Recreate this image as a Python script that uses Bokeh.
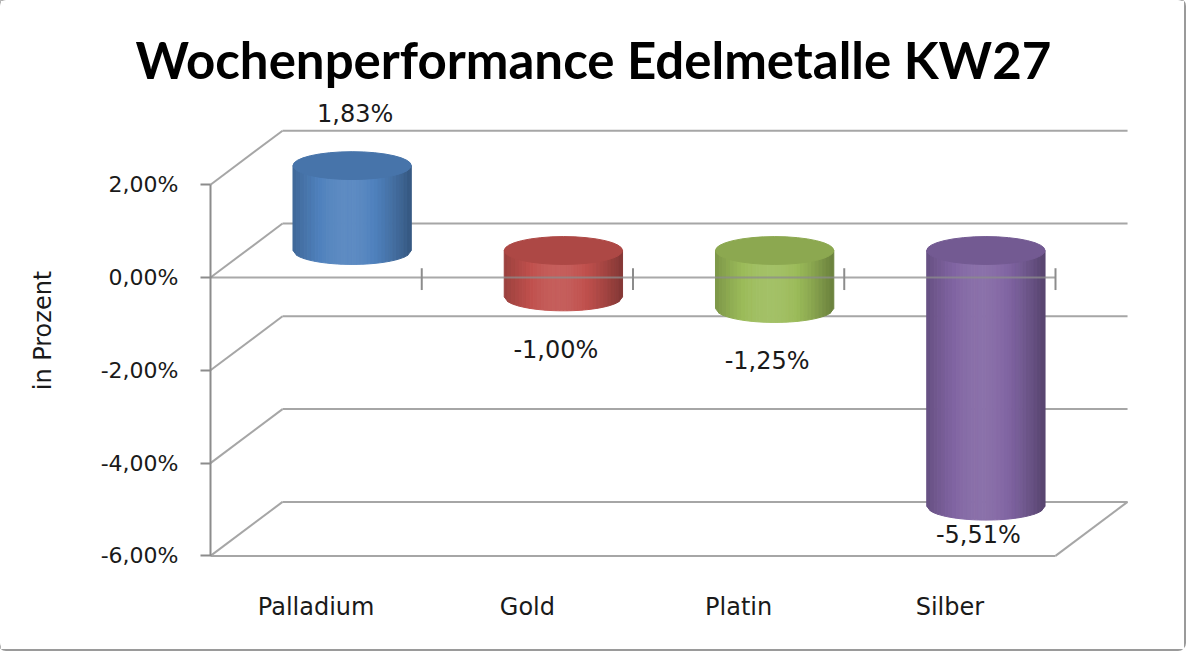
import numpy as np
from bokeh.plotting import figure
from bokeh.models import Range1d, FixedTicker, CustomJSTickFormatter
from bokeh.embed import file_html
from bokeh.resources import INLINE

metals = ["Palladium", "Gold", "Platin", "Silber"]
change = [1.83, -1.00, -1.25, -5.51]          # Wochenperformance in %
labels = ["1,83%", "-1,00%", "-1,25%", "-5,51%"]
colors = ["#4f81bd", "#c0504d", "#9bbb59", "#8064a2"]
y_ticks = [-6, -4, -2, 0, 2]

# pseudo 3D: depth offset of the back wall (x in categories, y in %)
DX = 0.341
DY = 1.164
BAR_W = 0.56
CAP_H = 0.60
FLOOR = min(y_ticks)
TOP = max(y_ticks)
N = len(metals)
GRID = "#a6a6a6"
STRIPS = 32
PX = 211.25   # pixels per category


def shade(hex_color, f):
    r, g, b = (int(hex_color[i:i + 2], 16) for i in (1, 3, 5))
    if f >= 1:
        t = f - 1
        r, g, b = (c + (255 - c) * t for c in (r, g, b))
    else:
        r, g, b = (c * f for c in (r, g, b))
    return "#%02x%02x%02x" % tuple(int(round(min(c, 255))) for c in (r, g, b))


def profile(t):
    # dark left edge, highlight near middle, darker right edge
    return 0.80 + 0.34 * np.sin(np.pi * t) - 0.12 * t


x0 = -4 / PX
p = figure(width=1184, height=649, output_backend="svg", toolbar_location=None,
           x_range=Range1d(x0, x0 + (1184 - 206) / PX), y_range=Range1d(-6.099, 3.815),
           min_border_left=206, min_border_right=0, min_border_top=100,
           min_border_bottom=89, title="Wochenperformance Edelmetalle KW27")
p.styles = {"box-shadow": "0 0 0 2px #9a9a9a", "border-radius": "6px"}
p.outline_line_color = None
p.xgrid.visible = False
p.ygrid.visible = False

p.title.align = "left"
p.title.offset = -71
p.title.standoff = 22
p.title.text_font = "Lato"
p.title.text_font_style = "bold"
p.title.text_font_size = "51px"
p.title.text_color = "#000000"

# back wall gridlines and left wall diagonals
back_y = [t + DY for t in y_ticks]
p.segment(x0=[DX] * len(y_ticks), y0=back_y, x1=[N + DX] * len(y_ticks), y1=back_y,
          line_color=GRID, line_width=2)
p.segment(x0=[0] * len(y_ticks), y0=y_ticks, x1=[DX] * len(y_ticks), y1=back_y,
          line_color=GRID, line_width=2)
# floor
p.segment(x0=[0, N], y0=[FLOOR, FLOOR], x1=[N, N + DX], y1=[FLOOR, FLOOR + DY],
          line_color=GRID, line_width=2)
# left wall front edge
p.segment(x0=[0], y0=[FLOOR], x1=[0], y1=[TOP], line_color="#8c8c8c", line_width=2)

# cylinders
xs, ys, fills = [], [], []
cap_x, cap_y, cap_c = [], [], []
for i, v in enumerate(change):
    xc = i + 0.5 + DX / 2
    top = max(v, 0) + DY / 2
    bot = min(v, 0) + DY / 2
    edges = np.linspace(xc - BAR_W / 2, xc + BAR_W / 2, STRIPS + 1)
    u = (edges - xc) / (BAR_W / 2)
    curve = bot - CAP_H / 2 * np.sqrt(np.clip(1 - u ** 2, 0, 1))
    for k in range(STRIPS):
        xs.append([edges[k], edges[k + 1], edges[k + 1], edges[k]])
        ys.append([top, top, curve[k + 1], curve[k]])
        fills.append(shade(colors[i], profile((k + 0.5) / STRIPS)))
    cap_x.append(xc)
    cap_y.append(top)
    cap_c.append(shade(colors[i], 0.9))
p.patches(xs, ys, fill_color=fills, line_color=fills, line_width=1)
p.ellipse(x=cap_x, y=cap_y, width=BAR_W, height=CAP_H, fill_color=cap_c,
          line_color=cap_c, line_width=1)

# category axis at zero (front), drawn over the cylinders
p.segment(x0=[0], y0=[0], x1=[N], y1=[0], line_color="#8c8c8c", line_width=2,
          line_alpha=0.75)
p.segment(x0=list(range(1, N + 1)), y0=[-0.27] * N, x1=list(range(1, N + 1)),
          y1=[0.2] * N, line_color="#8c8c8c", line_width=2)

# data labels
lab_x = [i + 0.5 + (DX / 2 + 0.014 if v > 0 else 0.135) for i, v in enumerate(change)]
lab_y = [v + DY + 0.52 if v > 0 else max(v - 0.56, FLOOR + 0.46) for v in change]
p.text(x=lab_x, y=lab_y, text=labels, text_align="center", text_baseline="middle",
       text_font={"value": "DejaVu Sans"}, text_font_size="24px", text_color="#1a1a1a")

# y axis
yax = p.yaxis[0]
yax.ticker = FixedTicker(ticks=y_ticks)
yax.formatter = CustomJSTickFormatter(code="return tick.toFixed(2).replace('.', ',') + '%'")
yax.axis_line_color = None
yax.major_tick_line_color = "#8c8c8c"
yax.major_tick_line_width = 2
yax.major_tick_out = 6
yax.major_tick_in = 4
yax.minor_tick_line_color = None
yax.major_label_standoff = 22
yax.major_label_text_font = "DejaVu Sans"
yax.major_label_text_font_size = "22px"
yax.major_label_text_color = "#1a1a1a"
yax.axis_label = "in Prozent"
yax.axis_label_standoff = 41
yax.axis_label_text_font = "DejaVu Sans"
yax.axis_label_text_font_style = "normal"
yax.axis_label_text_font_size = "24px"
yax.axis_label_text_color = "#1a1a1a"

# x axis with metal names
xax = p.xaxis[0]
xax.ticker = FixedTicker(ticks=[i + 0.5 for i in range(N)])
xax.formatter = CustomJSTickFormatter(args=dict(names=metals),
                                      code="return names[Math.round(tick - 0.5)] || ''")
xax.axis_line_color = None
xax.major_tick_line_color = None
xax.minor_tick_line_color = None
xax.major_label_standoff = 26
xax.major_label_text_font = "DejaVu Sans"
xax.major_label_text_font_size = "24px"
xax.major_label_text_color = "#1a1a1a"

open("out.html", "w").write(file_html(p, INLINE))
